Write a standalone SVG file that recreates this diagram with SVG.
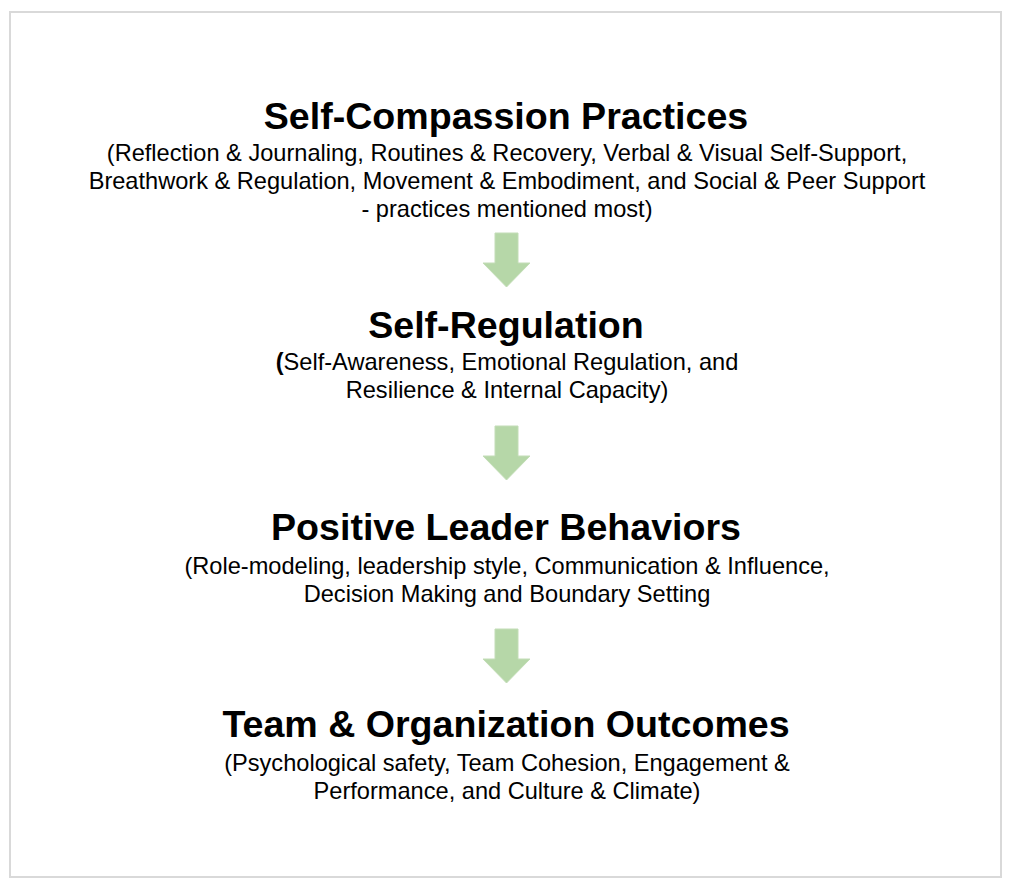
<svg xmlns="http://www.w3.org/2000/svg" width="1010" height="888" viewBox="0 0 1010 888">
<style>
.t{font-family:"Liberation Sans",Arial,sans-serif;font-weight:bold;font-size:37.6px;fill:#000;text-anchor:middle}
.s{font-family:"Liberation Sans",Arial,sans-serif;font-size:23.6px;fill:#000;text-anchor:middle}
.b{font-weight:bold}
.arr{fill:#b6d7a8;stroke:#c3ddb7;stroke-width:1}
</style>
<defs>
<path id="arrow" d="M495,0 H518 V30 H530 L506.5,54 L483,30 H495 Z"/>
</defs>
<rect x="0" y="0" width="1010" height="888" fill="#fff"/>
<rect x="10" y="12" width="991" height="865" fill="#fff" stroke="#d9d9d9" stroke-width="2"/>
<g id="node1">
<text class="t" x="506" y="129">Self-Compassion Practices</text>
<text class="s" x="507" y="161">(Reflection &amp; Journaling, Routines &amp; Recovery, Verbal &amp; Visual Self-Support,</text>
<text class="s" x="507" y="189">Breathwork &amp; Regulation, Movement &amp; Embodiment, and Social &amp; Peer Support</text>
<text class="s" x="507" y="217">- practices mentioned most)</text>
</g>
<g id="node2">
<text class="t" x="506" y="338">Self-Regulation</text>
<text class="s" x="507" y="370"><tspan class="b">(</tspan>Self-Awareness, Emotional Regulation, and</text>
<text class="s" x="507" y="398">Resilience &amp; Internal Capacity)</text>
</g>
<g id="node3">
<text class="t" x="506" y="540">Positive Leader Behaviors</text>
<text class="s" x="507" y="574">(Role-modeling, leadership style, Communication &amp; Influence,</text>
<text class="s" x="507" y="602">Decision Making and Boundary Setting</text>
</g>
<g id="node4">
<text class="t" x="506" y="737">Team &amp; Organization Outcomes</text>
<text class="s" x="507" y="771">(Psychological safety, Team Cohesion, Engagement &amp;</text>
<text class="s" x="507" y="799">Performance, and Culture &amp; Climate)</text>
</g>
<g id="connectors">
<use href="#arrow" class="arr" transform="translate(0,233)"/>
<use href="#arrow" class="arr" transform="translate(0,426)"/>
<use href="#arrow" class="arr" transform="translate(0,629)"/>
</g>
</svg>
